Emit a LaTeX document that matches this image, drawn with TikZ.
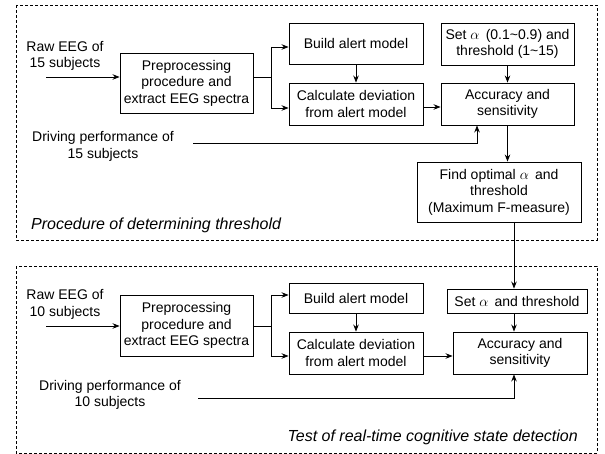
\documentclass[tikz,border=0pt]{standalone}
\usepackage{fontspec}
\setmainfont{Liberation Sans}
\usetikzlibrary{arrows.meta}
\begin{document}
\begin{tikzpicture}[x=1pt,y=-1pt,
  every node/.style={font=\fontsize{14}{16.5}\selectfont, align=center, inner sep=0pt},
  procbox/.style={draw, line width=0.9pt},
  frame/.style={draw, line width=0.9pt, dash pattern=on 3pt off 2pt},
  conn/.style={line width=0.9pt},
  arr/.style={conn, -{Stealth[length=7pt,width=5.5pt]}},
  lbl/.style={},
  ttl/.style={font=\fontsize{16}{19}\selectfont\itshape}]
\useasboundingbox (0,0) rectangle (605,454);
% frames
\draw[frame] (16,5) rectangle (597,240);
\draw[frame] (16,266) rectangle (597,453);

% ---------- top section ----------
\node[lbl] (raw1) at (65,56) {Raw EEG of\\15 subjects};
\node[procbox, minimum width=133pt, minimum height=60pt] (pre1) at (186.5,83) {Preprocessing\\procedure and\\extract EEG spectra};
\node[procbox, minimum width=134pt, minimum height=41pt] (build1) at (356,43.5) {Build alert model};
\node[procbox, minimum width=134pt, minimum height=42pt] (calc1) at (356,104) {Calculate deviation\\from alert model};
\node[procbox, minimum width=133pt, minimum height=42pt] (set1) at (507.5,44) {Set $\alpha$\, (0.1\textasciitilde 0.9) and\\threshold (1\textasciitilde 15)};
\node[procbox, minimum width=133pt, minimum height=42pt] (acc1) at (507.5,104) {Accuracy and\\sensitivity};
\node[procbox, minimum width=164pt, minimum height=60pt] (find1) at (499,192) {Find optimal $\alpha$\, and\\threshold\\(Maximum F-measure)};
\node[lbl] (drv1) at (103,146.5) {Driving performance of\\15 subjects};
\node[ttl, anchor=west] (title1) at (31,225) {Procedure of determining threshold};

\coordinate (r1) at (46,77);
\coordinate (b1) at (271,77);
\coordinate (b1t) at (271,47);
\coordinate (b1b) at (271,108);
\coordinate (d1) at (193,143);
\coordinate (d1c) at (477,143);
\coordinate (c1) at (423,107);

\draw[arr] (r1) -- (r1 -| pre1.west);
\draw[conn] (b1 -| pre1.east) -- (b1);
\draw[conn] (b1t) -- (b1b);
\draw[arr] (b1t) -- (b1t -| build1.west);
\draw[arr] (b1b) -- (b1b -| calc1.west);
\draw[arr] (build1.south) -- (calc1.north);
\draw[arr] (set1.south) -- (acc1.north);
\draw[arr] (c1) -- (c1 -| acc1.west);
\draw[arr] (d1) -- (d1c) -- (d1c |- acc1.south);
\draw[arr] (acc1.south) -- (acc1.south |- find1.north);

% ---------- bottom section ----------
\node[lbl] (raw2) at (65,304.5) {Raw EEG of\\10 subjects};
\node[procbox, minimum width=133pt, minimum height=61pt] (pre2) at (186.5,325.5) {Preprocessing\\procedure and\\extract EEG spectra};
\node[procbox, minimum width=134pt, minimum height=30pt] (build2) at (356,298) {Build alert model};
\node[procbox, minimum width=134pt, minimum height=42pt] (calc2) at (356,353) {Calculate deviation\\from alert model};
\node[procbox, minimum width=140pt, minimum height=24pt] (set2) at (517,301) {Set $\alpha$\, and threshold};
\node[procbox, minimum width=134pt, minimum height=42pt] (acc2) at (520,353) {Accuracy and\\sensitivity};
\node[lbl] (drv2) at (110,395) {Driving performance of\\10 subjects};
\node[ttl, anchor=east] (title2) at (578,437) {Test of real-time cognitive state detection};

\coordinate (r2) at (46,326);
\coordinate (b2) at (271,326);
\coordinate (b2t) at (271,295);
\coordinate (b2b) at (271,356);
\coordinate (v2) at (514,222);
\coordinate (d2) at (198,398);
\coordinate (d2c) at (514,398);
\coordinate (c2) at (423,356);

\draw[arr] (v2) -- (v2 |- set2.north);
\draw[arr] (r2) -- (r2 -| pre2.west);
\draw[conn] (b2 -| pre2.east) -- (b2);
\draw[conn] (b2t) -- (b2b);
\draw[arr] (b2t) -- (b2t -| build2.west);
\draw[arr] (b2b) -- (b2b -| calc2.west);
\draw[arr] (build2.south) -- (calc2.north);
\draw[arr] (v2 |- set2.south) -- (v2 |- acc2.north);
\draw[arr] (c2) -- (c2 -| acc2.west);
\draw[arr] (d2) -- (d2c) -- (d2c |- acc2.south);
\end{tikzpicture}
\end{document}
